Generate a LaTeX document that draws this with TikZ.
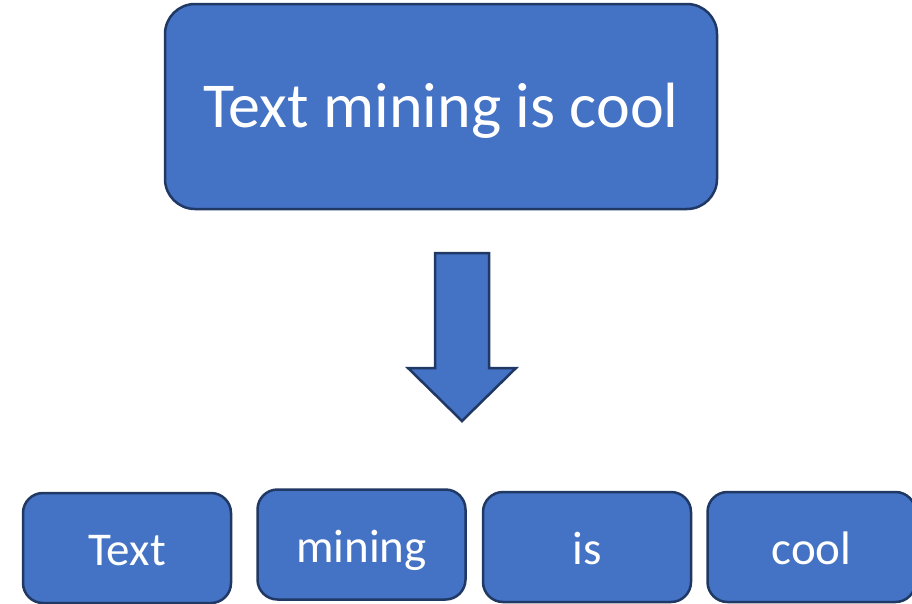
\documentclass[tikz,border=0pt]{standalone}
\usepackage{fontspec}
\setmainfont{Carlito}
\definecolor{tokblue}{RGB}{68,114,196}
\definecolor{tokline}{RGB}{31,56,100}
\usetikzlibrary{positioning}
\tikzset{
	sentence/.style={
		rectangle,
		rounded corners=30pt,
		draw=tokline,
		line width=2.5pt,
		fill=tokblue,
		minimum width=552pt,
		minimum height=205pt,
		text height=41pt,
		text depth=0pt,
		font=\fontsize{64}{70}\selectfont\color{white},
	},
	token/.style={
		rectangle,
		rounded corners=20pt,
		draw=tokline,
		line width=2.5pt,
		fill=tokblue,
		minimum width=208pt,
		minimum height=110pt,
		text height=35pt,
		text depth=0pt,
		font=\fontsize{47}{50}\selectfont\color{white},
	},
	splitarrow/.style={
		draw=tokline,
		line width=2.5pt,
		fill=tokblue,
	},
}

\begin{document}
\begin{tikzpicture}[x=1pt,y=-1pt]
	\clip (0,0) rectangle (912,603);
	\node[sentence] (sent) at (441,106.5) {Text mining is cool};

	\draw[splitarrow] (462,253) -- ++(27,0) -- ++(0,115) -- ++(27,0) -- ++(-54,53)
		-- ++(-54,-53) -- ++(27,0) -- ++(0,-115) -- cycle;

	\node[token] (w1) at (127,548) {Text};
	\node[token,right=24pt of w1,yshift=3.5pt] (w2) {mining};
	\node[token,right=15pt of w2,yshift=-2.5pt] (w3) {is};
	\node[token,right=14pt of w3] (w4) {cool};
\end{tikzpicture}
\end{document}
